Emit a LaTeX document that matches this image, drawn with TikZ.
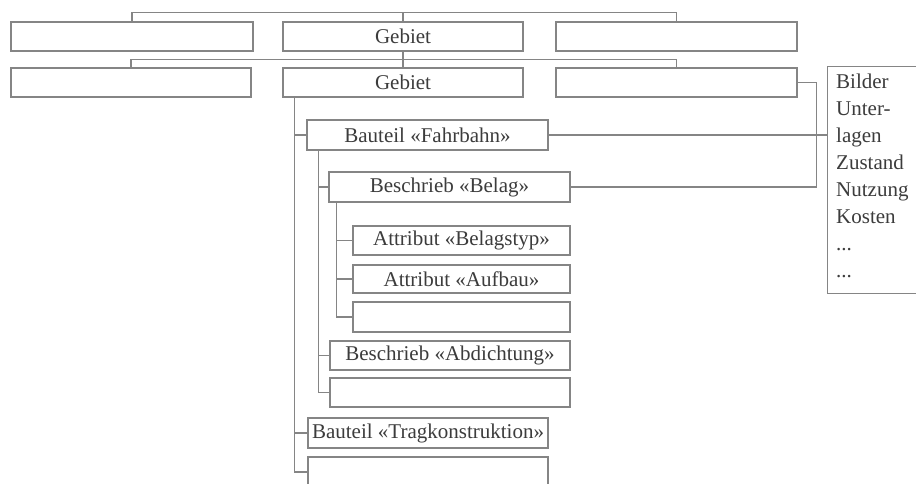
\documentclass[tikz,border=0pt]{standalone}
\usepackage{fontspec}
\setmainfont{Liberation Serif}
\definecolor{linegray}{HTML}{858585}
\definecolor{textgray}{HTML}{3C3C3C}
\begin{document}
\begin{tikzpicture}[x=1pt,y=-1pt,
  box/.style={draw=linegray,line width=1.1pt,minimum height=29pt,inner sep=0pt,
    text=textgray,font=\fontsize{21}{25}\selectfont},
  conn/.style={draw=linegray,line width=1.1pt},
  itxt/.style={anchor=base west,inner sep=0pt,text=textgray,font=\fontsize{21}{25}\selectfont}]
\path[use as bounding box,fill=white] (0,0) rectangle (916,483);
\clip (0,0) rectangle (916,483);
% row 1
\node[box,minimum width=242pt] (r1a) at (132,36.5) {};
\node[box,minimum width=240pt] (r1b) at (403,36.5) {Gebiet};
\node[box,minimum width=241pt] (r1c) at (676.5,36.5) {};
% row 2
\node[box,minimum width=240pt] (r2a) at (131,82.5) {};
\node[box,minimum width=240pt] (r2b) at (403,82.5) {Gebiet};
\node[box,minimum width=241pt] (r2c) at (676.5,82.5) {};
% hierarchy
\node[box,minimum width=241pt,minimum height=30pt] (bf) at (427.5,135) {Bauteil «Fahrbahn»};
\node[box,minimum width=241pt,minimum height=30pt] (bb) at (449.5,187) {Beschrieb «Belag»};
\node[box,minimum width=217pt] (ab1) at (461.5,240.5) {Attribut «Belagstyp»};
\node[box,minimum width=217pt,minimum height=28pt] (ab2) at (461.5,279) {Attribut «Aufbau»};
\node[box,minimum width=217pt,minimum height=30pt] (ab3) at (461.5,317) {};
\node[box,minimum width=240pt] (ba) at (450,355.5) {Beschrieb «Abdichtung»};
\node[box,minimum width=240pt] (be) at (450,392.5) {};
\node[box,minimum width=240pt,minimum height=30pt] (bt) at (428,433) {Bauteil «Tragkonstruktion»};
\node[box,minimum width=240pt,minimum height=30pt] (bx) at (428,472) {};
% info box
\node[draw=linegray,line width=1.1pt,anchor=north west,minimum width=110pt,minimum height=227pt,inner sep=0pt] (info) at (827,66) {};
\node[itxt] (l1) at (836,88) {Bilder};
\node[itxt] (l2) at (836,115) {Unter-};
\node[itxt] (l3) at (836,142) {lagen};
\node[itxt] (l4) at (836,169) {Zustand};
\node[itxt] (l5) at (836,196) {Nutzung};
\node[itxt] (l6) at (836,223) {Kosten};
\node[itxt] (l7) at (836,250) {...};
\node[itxt] (l8) at (836,277) {...};
% top connectors
\draw[conn] (r1a.north) -- ++(0,-9) -| (r1c.north);
\draw[conn] (r1b.north) -- ++(0,-9);
\draw[conn] (r2a.north) -- ++(0,-8) -| (r2c.north);
\draw[conn] (r1b.south) -- (r2b.north);
% trunks
\coordinate (t1) at ([xshift=12pt]r2b.south west);
\coordinate (t2) at ([xshift=12pt]bf.south west);
\coordinate (t3) at ([xshift=8pt]bb.south west);
\draw[conn] (t1) |- (bf.west);
\draw[conn] (t1) |- (bt.west);
\draw[conn] (t1) |- (bx.west);
\draw[conn] (t2) |- (bb.west);
\draw[conn] (t2) |- (ba.west);
\draw[conn] (t2) |- (be.west);
\draw[conn] (t3) |- (ab1.west);
\draw[conn] (t3) |- (ab2.west);
\draw[conn] (t3) |- (ab3.west);
% right links
\draw[conn] (bf.east) -- (bf.east -| info.west);
\draw[conn] (bb.east) -- ++(246,0) |- (r2c.east);
\end{tikzpicture}
\end{document}
